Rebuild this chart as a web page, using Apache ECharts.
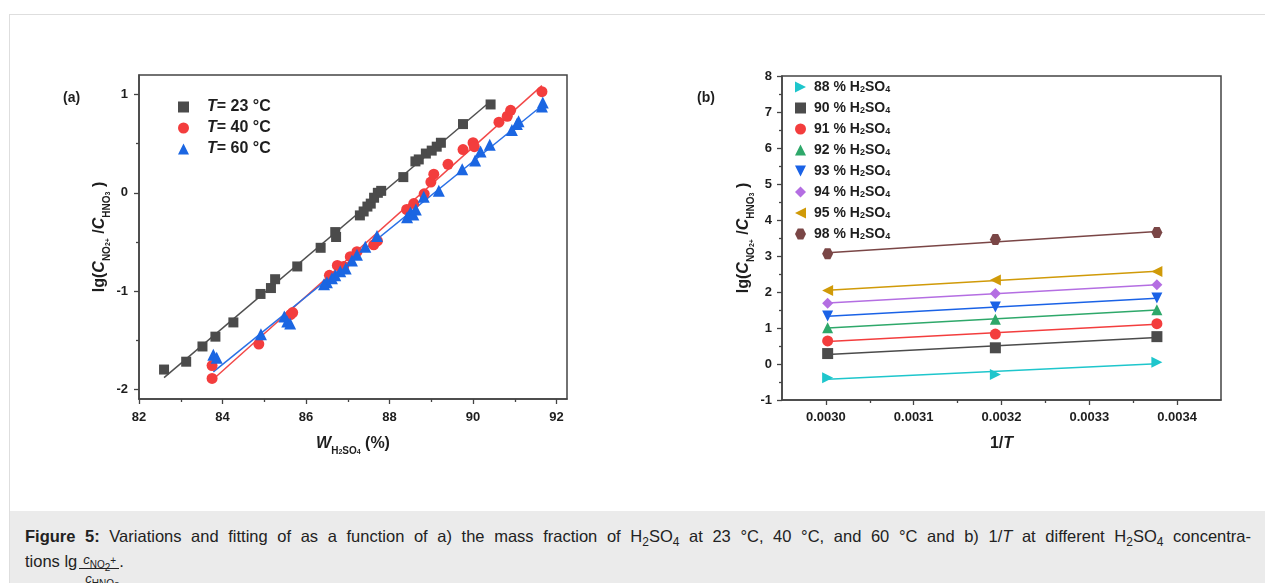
<!DOCTYPE html>
<html>
<head>
<meta charset="utf-8">
<script src="https://cdn.jsdelivr.net/npm/echarts@6/dist/echarts.min.js"></script>
<style>
  html, body { margin: 0; padding: 0; background: #fff; overflow: hidden; }
  body { width: 1265px; height: 583px; position: relative; font-family: "Liberation Sans", Arial, sans-serif; }
  .card { position: absolute; left: 9px; top: 14px; width: 1280px; height: 600px; border: 1px solid #dedede; background: #fff; }
  .caption { position: absolute; left: 10px; top: 511px; width: 1280px; height: 80px; background: #ebebeb; }
  .caption .txt { position: absolute; left: 15px; top: 13px; width: 1226px; font-size: 16.5px; line-height: 25px; color: #222; }
  .caption .l1 { text-align: justify; text-align-last: justify; white-space: nowrap; height: 25px; }
  .caption .l2 { height: 25px; }
  .caption sub.m { font-size: 12px; line-height: 0; }
  .frac { position: relative; top: -3px; display: inline-block; vertical-align: baseline; font-size: 13px; line-height: 13px; margin-left: 2px; border-bottom: 1px solid #222; padding: 0 3px 0 4px; }
  .frac .den { position: absolute; left: 6px; top: 19px; }
  .frac sub, .frac sup { font-size: 10px; line-height: 0; }
  #chart { position: absolute; left: 0; top: 0; width: 1265px; height: 505px; }
</style>
</head>
<body>
<div class="card"></div>
<div class="caption"><div class="txt">
  <div class="l1"><b>Figure 5:</b> Variations and fitting of as a function of a) the mass fraction of H<sub class="m">2</sub>SO<sub class="m">4</sub> at 23 °C, 40 °C, and 60 °C and b) 1/<i>T</i> at different H<sub class="m">2</sub>SO<sub class="m">4</sub> concentra-</div>
  <div class="l2">tions lg<span class="frac"><span class="num"><i>c</i><sub>NO<sub>2</sub><sup>+</sup></sub></span><span class="den"><i>c</i><sub>HNO<sub>3</sub></sub></span></span>.</div>
</div></div>
<div id="chart"></div>
<script>
// Panel (a): lg(C_NO2+/C_HNO3) against H2SO4 mass fraction at three temperatures
const tempLabels = ['23', '40', '60'];
const w23 = [82.60, 83.13, 83.52, 83.83, 84.26, 84.91, 85.16, 85.26, 85.79, 86.35, 86.70, 86.72, 87.29, 87.38, 87.47, 87.55, 87.63, 87.72, 87.80, 88.33, 88.62, 88.70, 88.87, 89.01, 89.13, 89.23, 89.76, 90.42];
const lg23 = [-1.80, -1.72, -1.565, -1.465, -1.32, -1.03, -0.97, -0.88, -0.75, -0.56, -0.40, -0.45, -0.23, -0.19, -0.14, -0.11, -0.05, 0.00, 0.02, 0.16, 0.32, 0.34, 0.40, 0.43, 0.47, 0.51, 0.70, 0.90];
const w40 = [83.75, 83.75, 84.87, 85.63, 85.68, 86.56, 86.75, 86.90, 87.06, 87.22, 87.62, 87.71, 88.41, 88.58, 88.83, 88.99, 89.06, 89.40, 89.76, 90.00, 90.03, 90.62, 90.82, 90.90, 91.65];
const lg40 = [-1.76, -1.89, -1.54, -1.24, -1.22, -0.84, -0.74, -0.75, -0.65, -0.60, -0.53, -0.49, -0.17, -0.11, -0.01, 0.11, 0.19, 0.29, 0.44, 0.51, 0.47, 0.72, 0.78, 0.84, 1.03];
const w60 = [83.78, 83.86, 84.92, 85.48, 85.55, 85.62, 86.43, 86.50, 86.62, 86.70, 86.82, 86.95, 87.10, 87.22, 87.42, 87.70, 88.42, 88.50, 88.57, 88.63, 88.82, 89.18, 89.74, 90.05, 90.18, 90.40, 90.93, 91.05, 91.09, 91.65, 91.67];
const lg60 = [-1.65, -1.68, -1.44, -1.26, -1.31, -1.33, -0.93, -0.91, -0.87, -0.84, -0.80, -0.77, -0.69, -0.63, -0.55, -0.44, -0.25, -0.20, -0.22, -0.17, -0.04, 0.02, 0.24, 0.33, 0.42, 0.49, 0.64, 0.70, 0.73, 0.88, 0.92];
const aTicks = [82, 84, 86, 88, 90, 92];
const aMinorTicks = [83, 85, 87, 89, 91];
const aYTicks = [-2, -1, 0, 1];
const aYMinorTicks = [-1.5, -0.5, 0.5];

// Panel (b): lg(C_NO2+/C_HNO3) against 1/T for each acid strength
const invT = [0.003002, 0.003193, 0.003377];
const acidLabels = ['88', '90', '91', '92', '93', '94', '95', '98'];
const lg88 = [-0.38, -0.29, 0.05];
const lg90 = [0.29, 0.45, 0.76];
const lg91 = [0.64, 0.83, 1.12];
const lg92 = [1.01, 1.24, 1.51];
const lg93 = [1.33, 1.58, 1.83];
const lg94 = [1.69, 1.96, 2.20];
const lg95 = [2.04, 2.33, 2.57];
const lg98 = [3.06, 3.46, 3.65];
const bTicks = [0.0030, 0.0031, 0.0032, 0.0033, 0.0034];
const bMinorTicks = [0.00305, 0.00315, 0.00325, 0.00335];
const bYTicks = [-1, 0, 1, 2, 3, 4, 5, 6, 7, 8];
const bYMinorTicks = [-0.5, 0.5, 1.5, 2.5, 3.5, 4.5, 5.5, 6.5, 7.5];

const FONT = '"Liberation Sans", Arial, sans-serif';
const AXIS = '#444';
const INK = '#1e1e1e';

// least-squares straight line across the range of the measured points
function linearFit(xs, ys) {
  const n = xs.length;
  const mx = xs.reduce((a, b) => a + b, 0) / n;
  const my = ys.reduce((a, b) => a + b, 0) / n;
  let sxy = 0, sxx = 0;
  for (let i = 0; i < n; i++) { sxy += (xs[i] - mx) * (ys[i] - my); sxx += (xs[i] - mx) * (xs[i] - mx); }
  const k = sxy / sxx, b = my - k * mx;
  const lo = Math.min(...xs), hi = Math.max(...xs);
  return [[lo, b + k * lo], [hi, b + k * hi]];
}
const pairs = (xs, ys) => xs.map((x, i) => [x, ys[i]]);

const hexagon = 'path://M2.5,0 L7.5,0 L10,5 L7.5,10 L2.5,10 L0,5 Z';
const diamond = 'path://M5,0 L10,5 L5,10 L0,5 Z';
const triRight = 'path://M0,0 L10,5 L0,10 Z';
const triLeft = 'path://M10,0 L0,5 L10,10 Z';
const triDown = 'path://M0,0 L10,0 L5,10 Z';

const aSets = [
  { xs: w23, ys: lg23, symbol: 'rect', size: 10, color: '#4b4b4b', line: '#505050' },
  { xs: w40, ys: lg40, symbol: 'circle', size: 11, color: '#f33d3d', line: '#f24848' },
  { xs: w60, ys: lg60, symbol: 'triangle', size: 12, color: '#1b66e2', line: '#2a70e6' }
];
const bSets = [
  { ys: lg88, symbol: triRight, color: '#1ec6cc' },
  { ys: lg90, symbol: 'rect', color: '#4b4b4b' },
  { ys: lg91, symbol: 'circle', color: '#f33d3d' },
  { ys: lg92, symbol: 'triangle', color: '#2ea86a' },
  { ys: lg93, symbol: triDown, color: '#1a62e6' },
  { ys: lg94, symbol: diamond, color: '#b46ee2' },
  { ys: lg95, symbol: triLeft, color: '#d09a08' },
  { ys: lg98, symbol: hexagon, color: '#7a4646' }
];

const aNames = tempLabels.map(t => 'T= ' + t + ' °C');
const bNames = acidLabels.map(c => c + ' % H2SO4');

const series = [];
aSets.forEach((s, i) => {
  series.push({
    name: aNames[i], type: 'scatter', xAxisIndex: 0, yAxisIndex: 0,
    data: pairs(s.xs, s.ys), symbol: s.symbol, symbolSize: s.size,
    itemStyle: { color: s.color, opacity: 1 }, z: 3
  });
  series.push({
    type: 'line', xAxisIndex: 0, yAxisIndex: 0, data: linearFit(s.xs, s.ys),
    symbol: 'none', lineStyle: { color: s.line, width: 1.5 }, z: 2, silent: true
  });
});
bSets.forEach((s, i) => {
  series.push({
    type: 'line', xAxisIndex: 2, yAxisIndex: 2, data: linearFit(invT, s.ys),
    symbol: 'none', lineStyle: { color: s.color, width: 1.5 }, z: 2, silent: true
  });
  series.push({
    name: bNames[i], type: 'scatter', xAxisIndex: 2, yAxisIndex: 2,
    data: pairs(invT, s.ys), symbol: s.symbol, symbolSize: 11,
    itemStyle: { color: s.color, opacity: 1 }, z: 3
  });
});

const tickLabel = { fontFamily: FONT, fontWeight: 'bold', fontSize: 13, color: INK };
const nameRich = {
  b: { fontFamily: FONT, fontWeight: 'bold', fontSize: 16, color: INK, lineHeight: 24 },
  i: { fontFamily: FONT, fontWeight: 'bold', fontStyle: 'italic', fontSize: 16, color: INK, lineHeight: 24 },
  s: { fontFamily: FONT, fontWeight: 'bold', fontSize: 10, color: INK, lineHeight: 14, verticalAlign: 'bottom' },
  ss: { fontFamily: FONT, fontWeight: 'bold', fontSize: 7, color: INK, lineHeight: 10, verticalAlign: 'bottom' },
  sup: { fontFamily: FONT, fontWeight: 'bold', fontSize: 7, color: INK, lineHeight: 19, verticalAlign: 'bottom' }
};
const yName = '{b|lg(}{i|C}{s|NO}{ss|2}{sup|+}{b| /}{i|C}{s|HNO}{ss|3}{b| )}';

function mainAxis(opts) {
  return Object.assign({
    type: 'value',
    axisLine: { show: true, onZero: false, lineStyle: { color: AXIS, width: 1.5 } },
    splitLine: { show: false },
    nameTextStyle: { rich: nameRich }
  }, opts);
}
function minorAxis(opts) {
  return Object.assign({
    type: 'value',
    axisLine: { show: false, onZero: false },
    axisLabel: { show: false },
    splitLine: { show: false }
  }, opts);
}
const ticks = (vals, len) => ({ show: true, inside: false, length: len, customValues: vals, lineStyle: { color: AXIS, width: 1.3 } });
const labels = (vals, margin, extra) => Object.assign({ margin: margin, customValues: vals }, tickLabel, extra || {});

const option = {
  animation: false,
  textStyle: { fontFamily: FONT },
  grid: [
    { left: 139, top: 75, width: 428, height: 324, show: true, borderColor: AXIS, borderWidth: 1.5, backgroundColor: 'transparent' },
    { left: 782, top: 76, width: 439, height: 324, show: true, borderColor: AXIS, borderWidth: 1.5, backgroundColor: 'transparent' }
  ],
  xAxis: [
    mainAxis({ gridIndex: 0, position: 'bottom', min: 82, max: 92.25,
      axisTick: ticks(aTicks, 5), axisLabel: labels(aTicks, 12),
      name: '{i|W}{s|H}{ss|2}{s|SO}{ss|4}{b| (%)}', nameLocation: 'middle', nameGap: 33 }),
    minorAxis({ gridIndex: 0, position: 'bottom', min: 82, max: 92.25, axisTick: ticks(aMinorTicks, 3) }),
    mainAxis({ gridIndex: 1, position: 'bottom', min: 0.00295, max: 0.00345,
      axisTick: ticks(bTicks, 5), axisLabel: labels(bTicks, 11, { formatter: v => v.toFixed(4) }),
      name: '{b|1/}{i|T}', nameLocation: 'middle', nameGap: 32 }),
    minorAxis({ gridIndex: 1, position: 'bottom', min: 0.00295, max: 0.00345, axisTick: ticks(bMinorTicks, 3) })
  ],
  yAxis: [
    mainAxis({ gridIndex: 0, position: 'left', min: -2.1, max: 1.2,
      axisTick: ticks(aYTicks, 5), axisLabel: labels(aYTicks, 11),
      name: yName, nameLocation: 'middle', nameGap: 27, nameRotate: 90 }),
    minorAxis({ gridIndex: 0, position: 'left', min: -2.1, max: 1.2, axisTick: ticks(aYMinorTicks, 3) }),
    mainAxis({ gridIndex: 1, position: 'left', min: -1, max: 8,
      axisTick: ticks(bYTicks, 5), axisLabel: labels(bYTicks, 10),
      name: yName, nameLocation: 'middle', nameGap: 26, nameRotate: 90 }),
    minorAxis({ gridIndex: 1, position: 'left', min: -1, max: 8, axisTick: ticks(bYMinorTicks, 3) })
  ],
  legend: [
    {
      data: aNames, orient: 'vertical', left: 173, top: 94, itemWidth: 11, itemHeight: 11, itemGap: 5,
      selectedMode: false,
      formatter: n => '{sp|}{i|T}{t|' + n.slice(1) + '}',
      textStyle: {
        rich: {
          sp: { width: 13 },
          i: { fontFamily: FONT, fontWeight: 'bold', fontStyle: 'italic', fontSize: 16, color: INK, lineHeight: 17 },
          t: { fontFamily: FONT, fontWeight: 'bold', fontSize: 16, color: INK, lineHeight: 17 }
        }
      }
    },
    {
      data: bNames, orient: 'vertical', left: 790, top: 75, itemWidth: 11, itemHeight: 11, itemGap: 6.5,
      selectedMode: false,
      formatter: n => {
        const p = n.split(' % ');
        return '{sp|}{t|' + p[0] + ' % H}{s|2}{t|SO}{s|4}';
      },
      textStyle: {
        rich: {
          sp: { width: 3 },
          t: { fontFamily: FONT, fontWeight: 'bold', fontSize: 14, color: INK, lineHeight: 15 },
          s: { fontFamily: FONT, fontWeight: 'bold', fontSize: 9, color: INK, lineHeight: 10, verticalAlign: 'bottom' }
        }
      }
    }
  ],
  graphic: [
    { type: 'text', left: 63, top: 91, style: { text: '(a)', font: 'bold 14px ' + FONT, fill: INK } },
    { type: 'text', left: 697, top: 91, style: { text: '(b)', font: 'bold 14px ' + FONT, fill: INK } }
  ],
  series: series
};

const chart = echarts.init(document.getElementById('chart'), null, { renderer: 'canvas' });
chart.setOption(option);
</script>
</body>
</html>
